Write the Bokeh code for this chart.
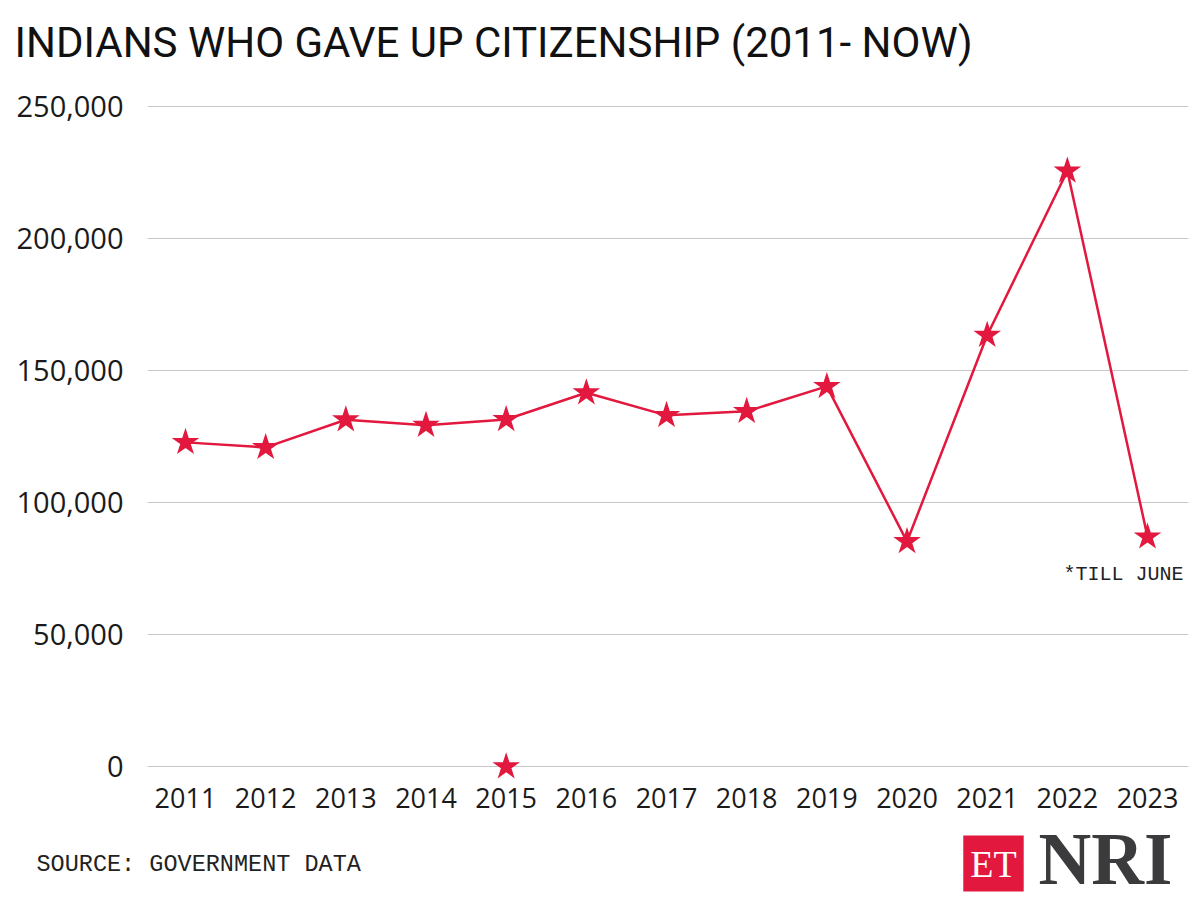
from bokeh.plotting import figure
from bokeh.layouts import column
from bokeh.models import Range1d, FixedTicker, NumeralTickFormatter, Label, ColumnDataSource
from bokeh.embed import file_html
from bokeh.resources import INLINE

# ---- data ----
years = [2011, 2012, 2013, 2014, 2015, 2016, 2017, 2018, 2019, 2020, 2021, 2022, 2023]
renounced = [122819, 120923, 131405, 129328, 131489, 141603, 133049, 134561, 144017,
             85256, 163370, 225620, 87026]
stray_year = [2015]
stray_value = [0]
y_ticks = [0, 50000, 100000, 150000, 200000, 250000]

title_text = "INDIANS WHO GAVE UP CITIZENSHIP (2011- NOW)"
source_text = "SOURCE: GOVERNMENT DATA"
note_text = "*TILL JUNE"
logo_left = "ET"
logo_right = "NRI"

RED = "#e2183e"
W = 1200
HEAD_H, MAIN_H, FOOT_H = 82, 736, 82


def blank(height):
    f = figure(width=W, height=height, output_backend="svg", toolbar_location=None,
               x_range=Range1d(0, W), y_range=Range1d(height, 0),
               min_border=0, x_axis_location=None, y_axis_location=None)
    f.outline_line_color = None
    f.grid.grid_line_color = None
    f.frame_align = False
    return f


# ---- header ----
head = blank(HEAD_H)
head.add_layout(Label(x=14, y=42, text=title_text, text_font="Roboto",
                      text_font_size="42px", text_color="#111111", text_baseline="middle"))

# ---- main chart ----
X0, X1 = 2010.526, 2023.511
Y0, Y1 = -6000, 252300
p = figure(width=W, height=MAIN_H, output_backend="svg", toolbar_location=None,
           x_range=Range1d(X0, X1), y_range=Range1d(Y0, Y1),
           min_border_left=147, min_border_right=12, min_border_top=18, min_border_bottom=36)
p.outline_line_color = None
p.frame_align = False

p.xaxis.ticker = FixedTicker(ticks=years)
p.xaxis.axis_line_color = None
p.xaxis.major_tick_line_color = None
p.xaxis.minor_tick_line_color = None
p.xaxis.major_label_text_font = "Open Sans"
p.xaxis.major_label_text_font_size = "27px"
p.xaxis.major_label_text_color = "#1a1a1a"
p.xaxis.major_label_standoff = -1

p.yaxis.ticker = FixedTicker(ticks=y_ticks)
p.yaxis.formatter = NumeralTickFormatter(format="0,0")
p.yaxis.axis_line_color = None
p.yaxis.major_tick_line_color = None
p.yaxis.minor_tick_line_color = None
p.yaxis.major_label_text_font = "Open Sans"
p.yaxis.major_label_text_font_size = "29px"
p.yaxis.major_label_text_color = "#1a1a1a"
p.yaxis.major_label_standoff = 18

p.xgrid.grid_line_color = None
p.ygrid.grid_line_color = "#c8c8c8"
p.ygrid.grid_line_width = 1

src = ColumnDataSource(dict(x=years, y=renounced))
p.line("x", "y", source=src, line_color=RED, line_width=2.5)
p.scatter("x", "y", source=src, marker="star", size=29, fill_color=RED, line_color=None)
p.scatter(stray_year, stray_value, marker="star", size=29, fill_color=RED, line_color=None)

p.add_layout(Label(x=years[-1], y=renounced[-1], x_offset=36, y_offset=-38, text=note_text,
                   text_font="Liberation Mono", text_font_size="20px", text_color="#222222",
                   text_align="right", text_baseline="middle"))

# ---- footer (local y = page y - 818) ----
foot = blank(FOOT_H)
foot.add_layout(Label(x=36, y=46, text=source_text, text_font="Liberation Mono",
                      text_font_size="23.5px", text_color="#222222", text_baseline="middle"))
foot.add_layout(Label(x=993, y=45, text=logo_left, text_font="Liberation Serif",
                      text_font_size="38px", text_color="white", text_align="center",
                      text_baseline="middle", background_fill_color=RED, padding=7))
foot.add_layout(Label(x=1038, y=41, text=logo_right, text_font="Liberation Serif",
                      text_font_style="bold", text_font_size="73px", text_color="#3b3b3d",
                      text_baseline="middle"))

layout = column(head, p, foot, spacing=0)
open("out.html", "w").write(file_html(layout, INLINE))
